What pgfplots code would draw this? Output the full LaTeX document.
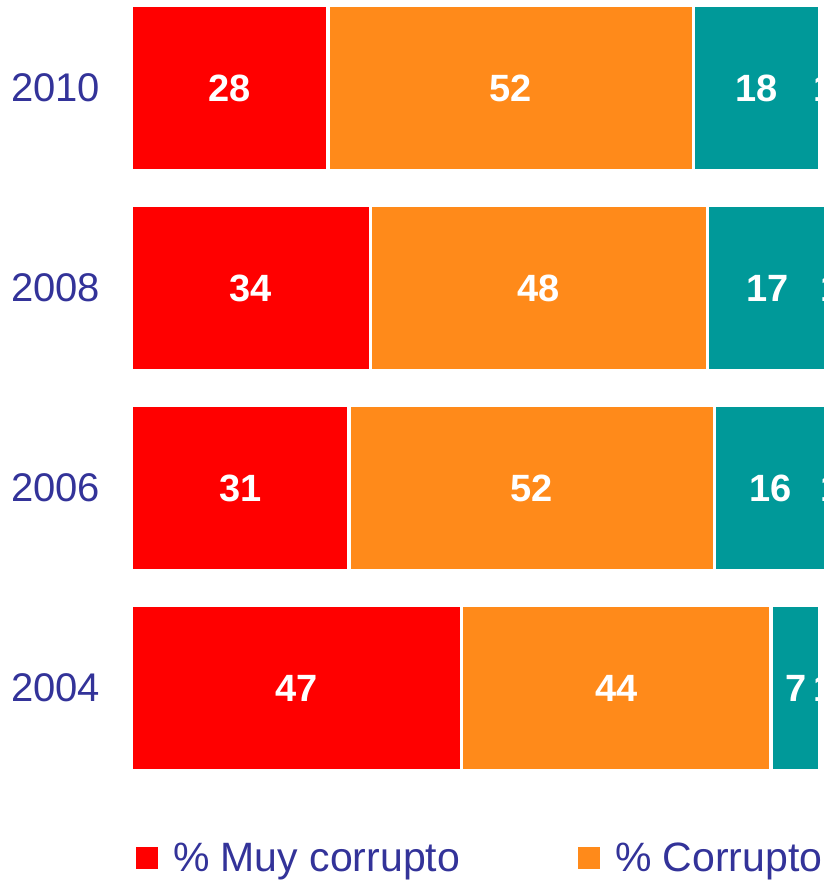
\documentclass[border=0pt]{standalone}
\usepackage{pgfplots}
\pgfplotsset{compat=1.18}
\usepackage{fontspec}
\setmainfont{Liberation Sans}
\definecolor{cred}{RGB}{255,0,0}
\definecolor{corange}{RGB}{255,138,26}
\definecolor{cteal}{RGB}{0,153,153}
\definecolor{cnavy}{RGB}{51,51,153}
\definecolor{clight}{RGB}{255,255,255}
\begin{document}
\begin{tikzpicture}
\begin{axis}[
  at={(-1.75pt,0pt)}, anchor=south west,
  scale only axis, width=703pt, height=800pt,
  xbar stacked, bar width=165.5pt,
  xmin=0, xmax=100, ymin=-0.5, ymax=3.5,
  ytick={0,1,2,3}, yticklabels={2004,2006,2008,2010},
  yticklabel style={font=\fontsize{40}{48}\selectfont, text=cnavy, inner sep=0pt, xshift=-31pt},
  xtick=\empty, axis line style={draw=none}, major tick length=0pt,
  /pgf/number format/assume math mode=true,
  nodes near coords, point meta=explicit,
  every node near coord/.append style={font=\bfseries\fontsize{38}{46}\selectfont, text=white},
  legend columns=4,
  legend style={draw=none, fill=none, inner sep=0pt, outer sep=0pt,
    at={(0.0068,-0.0875)}, anchor=west,
    font=\fontsize{41}{49}\selectfont, text=cnavy,
    nodes={inner sep=0pt},
    /tikz/every odd column/.append style={column sep=15pt},
    /tikz/every even column/.append style={column sep=118pt}},
  legend image code/.code={\fill[#1,draw=none] (0pt,-11pt) rectangle (22pt,11pt);},
]
\addplot[fill=cred, draw=white, line width=3.5pt] coordinates {(47,0) [47] (31,1) [31] (34,2) [34] (28,3) [28]};
\addplot[fill=corange, draw=white, line width=3.5pt] coordinates {(44,0) [44] (52,1) [52] (48,2) [48] (52,3) [52]};
\addplot[fill=cteal, draw=white, line width=3.5pt] coordinates {(7,0) [7] (16,1) [16] (17,2) [17] (18,3) [18]};
\addplot[fill=clight, draw=white, line width=3.5pt] coordinates {(1,0) [1] (1,1) [1] (1,2) [1] (1,3) [1]};
\legend{\% Muy corrupto, \% Corrupto, \% Poco corrupto, \% Nada corrupto}
\end{axis}
\pgfresetboundingbox
\path (-133pt,-93pt) rectangle (690pt,788pt);
\end{tikzpicture}
\end{document}
